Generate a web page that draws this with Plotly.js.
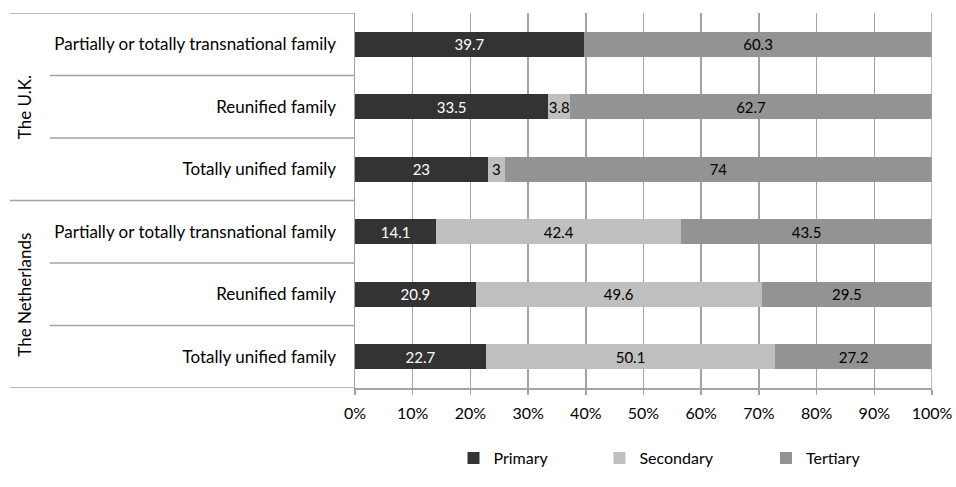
<!DOCTYPE html>
<html>
<head>
<meta charset="utf-8">
<script src="https://cdn.plot.ly/plotly-3.0.1.min.js"></script>
<style>
  html, body { margin: 0; padding: 0; background: #fff; }
  #chart { width: 956px; height: 487px; }
</style>
</head>
<body>
<div id="chart"></div>
<script>
// Education level of children by family type, per country (row shares sum to 100)
const countries = ['The U.K.', 'The Netherlands'];
const familyTypes = [
  'Partially or totally transnational family',
  'Reunified family',
  'Totally unified family'
];
const seriesNames = ['Primary', 'Secondary', 'Tertiary'];

// Rows run top to bottom: U.K. (3 family types), then the Netherlands (3 family types)
const primary   = [39.7, 33.5, 23,   14.1, 20.9, 22.7];
const secondary = [0,    3.8,  3,    42.4, 49.6, 50.1];
const tertiary  = [60.3, 62.7, 74,   43.5, 29.5, 27.2];

const xTicks = [0, 10, 20, 30, 40, 50, 60, 70, 80, 90, 100];

const seriesColors = ['#333333', '#bfbfbf', '#939393'];
const labelColors  = ['#ffffff', '#000000', '#000000'];
const lineGray = '#a3a3a3';
const FONT = 'Lato, "Liberation Sans", sans-serif';

const rowLabels = [];
countries.forEach(() => familyTypes.forEach(f => rowLabels.push(f)));
const rowIdx = rowLabels.map((_, i) => i);

// one legend box per series so each key sits at its own spot under the axis
const legendIds = ['legend', 'legend2', 'legend3'];
const legendX = [0.1707, 0.4237, 0.7123];

const seriesValues = [primary, secondary, tertiary];
const traces = seriesValues.map((vals, s) => ({
  type: 'bar',
  orientation: 'h',
  name: seriesNames[s],
  legend: legendIds[s],
  x: vals,
  y: rowIdx,
  text: vals.map(v => (v > 0 ? String(v) : '')),
  textposition: 'inside',
  insidetextanchor: 'middle',
  constraintext: 'none',
  textangle: 0,
  textfont: { family: FONT, size: 15, color: labelColors[s] },
  marker: { color: seriesColors[s], line: { width: 0 } },
  hoverinfo: 'skip'
}));

// Left-hand table lines: full-width lines at country boundaries, shorter ones between family types
const shapes = [];
const nRows = rowLabels.length;
const perGroup = familyTypes.length;
for (let b = 0; b <= nRows; b++) {
  const isGroupEdge = b % perGroup === 0;
  shapes.push({
    type: 'line', xref: 'paper', yref: 'y',
    x0: isGroupEdge ? -0.598 : -0.529, x1: 0,
    y0: b - 0.5, y1: b - 0.5,
    line: { color: lineGray, width: 1.5 }
  });
}
// right-hand frame line at 100%
shapes.push({
  type: 'line', xref: 'x', yref: 'paper',
  x0: 100, x1: 100, y0: 0, y1: 1,
  line: { color: lineGray, width: 1.5 }
});

// Country names, rotated, centred on their block of rows
const annotations = countries.map((c, g) => ({
  text: c,
  xref: 'paper', yref: 'y',
  x: -0.573, y: g * perGroup + (perGroup - 1) / 2,
  xanchor: 'center', yanchor: 'middle',
  textangle: -90,
  showarrow: false,
  font: { family: FONT, size: 17, color: '#000' }
}));

const legendBase = {
  orientation: 'h',
  xanchor: 'left',
  y: -0.187, yanchor: 'middle',
  font: { family: FONT, size: 16, color: '#000' },
  itemwidth: 30,
  bgcolor: 'rgba(0,0,0,0)'
};

const layout = {
  width: 956, height: 487,
  margin: { l: 355, r: 24, t: 13, b: 84, pad: 0 },
  paper_bgcolor: '#fff', plot_bgcolor: '#fff',
  barmode: 'stack',
  bargap: 0.6,
  showlegend: true,
  font: { family: FONT, size: 16, color: '#000' },
  xaxis: {
    range: [0, 100],
    tickvals: xTicks,
    ticktext: xTicks.map(t => t + '%'),
    showgrid: true, gridcolor: lineGray, gridwidth: 1.5,
    zeroline: false,
    showline: true, linecolor: lineGray, linewidth: 1.5,
    ticks: 'outside', ticklen: 5, tickcolor: lineGray, tickwidth: 1.5,
    ticklabelstandoff: 5,
    tickfont: { family: FONT, size: 16, color: '#000' },
    fixedrange: true
  },
  yaxis: {
    range: [nRows - 0.5, -0.5],
    tickvals: rowIdx,
    ticktext: rowLabels,
    showgrid: false, zeroline: false,
    showline: true, linecolor: lineGray, linewidth: 1.5,
    ticks: '',
    ticklabelstandoff: 14,
    tickfont: { family: FONT, size: 17, color: '#000' },
    fixedrange: true
  },
  shapes: shapes,
  annotations: annotations
};
legendIds.forEach((id, i) => {
  layout[id] = Object.assign({}, legendBase, { x: legendX[i] });
});

Plotly.newPlot('chart', traces, layout, { displayModeBar: false, staticPlot: true });
</script>
</body>
</html>
